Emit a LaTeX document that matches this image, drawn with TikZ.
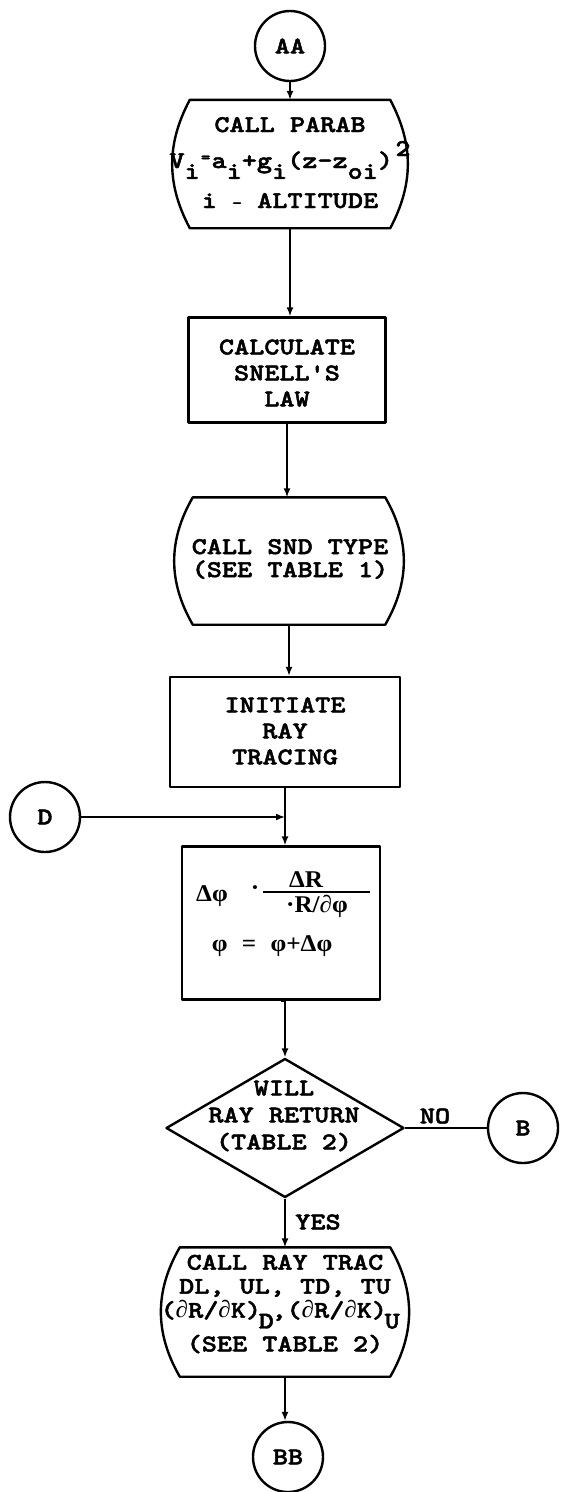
\documentclass[tikz,border=0pt]{standalone}
\usepackage{fontspec}
\newfontfamily\tw{lmmonolt10-bold.otf}[FakeStretch=1.2,FakeBold=2]
\newfontfamily\gr{Liberation Serif}[FakeStretch=1.05]
\usetikzlibrary{shapes.geometric,arrows.meta,calc}
\newcommand\lo[1]{\raisebox{-0.45em}{#1}}
\newcommand\hi[1]{\raisebox{0.5em}{#1}}
\newcommand\gk[1]{{\gr\bfseries #1}}
\newcommand\bulgeshape[2]{\draw[shp] (#1.north west) to[bend right=#2] (#1.south west) -- (#1.south east) to[bend right=#2] (#1.north east) -- cycle;}
\tikzset{
  shp/.style={line width=2.4pt, line join=round},
  frame/.style={rectangle, inner sep=0pt},
  boxed/.style={frame, draw, shp},
  conn/.style={circle, draw, shp, minimum size=70pt, inner sep=0pt, font=\tw\fontsize{24}{26}\selectfont},
  txt/.style={font=\tw\fontsize{24}{26}\selectfont, align=center, inner sep=0pt},
  arr/.style={line width=1.6pt, -{Latex[length=9pt,width=7pt]}},
  ln/.style={line width=1.6pt},
}
\begin{document}
\begin{tikzpicture}[x=1pt,y=-1pt]
\useasboundingbox (0,0) rectangle (561,1492);

% connectors (circles)
\node[conn] (AA) at (290,46) {AA};
\node[conn] (D) at (45,817) {D};
\node[conn] (B) at (523,1128) {B};
\node[conn] (BB) at (288,1457) {BB};

% CALL PARAB
\node[frame, minimum width=200pt, minimum height=128pt] (parab) at (290,164) {};
\bulgeshape{parab}{28}
\node[txt, anchor=base] (parab1) at (290,132) {CALL PARAB};
\node[txt, anchor=base] (parab2) at (290,168) {V\lo{i}\kern0.05em\raisebox{0.25em}{\fontsize{15}{15}\selectfont =}\kern0.05em a\lo{i}+g\lo{i}(z-z\lo{oi})\kern0.1em\hi{2}};
\node[txt, anchor=base] (parab3) at (290,208) {i {\fontsize{16}{16}\selectfont -} ALTITUDE};

% CALCULATE
\node[boxed, minimum width=197pt, minimum height=105pt] (calc) at (287,370) {};
\node[txt] (calcT) at (287,373) {CALCULATE\\SNELL'S\\LAW};

% SND TYPE
\node[frame, minimum width=192pt, minimum height=127pt] (snd) at (289,561) {};
\bulgeshape{snd}{30}
\node[txt] (sndT) at (290,559) {CALL SND TYPE\\[-3pt](SEE TABLE 1)};

% INITIATE
\node[boxed, minimum width=230pt, minimum height=110pt] (init) at (285,732) {};
\node[txt] (initT) at (285,731) {INITIATE\\RAY\\TRACING};

% Delta box
\node[boxed, minimum width=198pt, minimum height=153pt] (delta) at (281,923) {};
\node[txt] (dphi) at (212,896) {\gk{Δφ}};
\node[txt] (ddot) at (255,891) {\gk{·}};
\node[txt] (dnum) at (306,880) {\gk{ΔR}};
\node[txt] (dden) at (317,906) {\gk{·R/∂φ}};
\draw[line width=1.2pt] (263,892) -- (370,892);
\node[txt] (dupd) at (272,946) {\gk{φ\hspace{0.6em}=\hspace{0.6em}φ+Δφ}};

% Decision
\node[diamond, draw, shp, minimum width=238pt, minimum height=139pt, inner sep=0pt] (dec) at (285,1128) {};
\node[txt] (decT) at (284,1116) {WILL\\[1pt]RAY RETURN\\[1pt](TABLE 2)};

% CALL RAY TRAC
\node[frame, minimum width=210pt, minimum height=129pt] (ray) at (285,1312) {};
\bulgeshape{ray}{30}
\node[txt] (rayT) at (285,1304) {CALL RAY TRAC\\[-2pt]DL, UL, TD, TU\\[-2pt]\kern-0.4em(\gk{∂}R/\gk{∂}K)\kern-0.1em\lo{D}\kern-0.1em,(\gk{∂}R/\gk{∂}K)\kern-0.1em\lo{U}\\[5pt](SEE TABLE 2)};

% labels
\node[txt] (no) at (435,1116) {NO};
\node[txt] (yes) at (318,1222) {YES};

% flow lines
\draw[arr] (AA.south) -- (AA.south |- parab.north);
\draw[arr] (parab.south) -- (parab.south |- calc.north);
\draw[arr] (calc.south) -- (calc.south |- snd.north);
\draw[arr] (snd.south) -- (snd.south |- init.north);
\coordinate (join) at (init.south |- D.east);
\draw[ln] (init.south) -- (join);
\draw[arr] (join) -- (join |- delta.north);
\draw[arr] (D.east) -- (join);
\draw[arr] (delta.south) -- (delta.south -| dec.north) -- (dec.north);
\draw[ln] (dec.east) -- (B.west);
\draw[arr] (dec.south) -- (dec.south |- ray.north);
\draw[arr] (ray.south) -- (ray.south |- BB.north);
\end{tikzpicture}
\end{document}
